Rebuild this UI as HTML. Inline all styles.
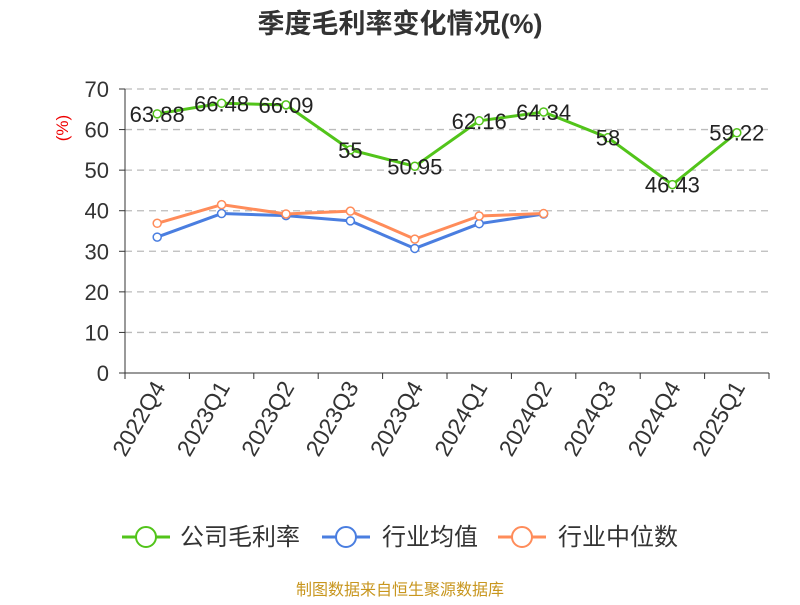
<!DOCTYPE html>
<html><head><meta charset="utf-8"><style>
body{margin:0;background:#fff;font-family:"Liberation Sans","Noto Sans CJK SC",sans-serif;}
</style></head><body>
<svg id="chart" width="800" height="600" xmlns="http://www.w3.org/2000/svg" font-family="Liberation Sans, Noto Sans CJK SC, sans-serif">
<text x="400" y="33" text-anchor="middle" font-size="27" font-weight="bold" fill="#333">季度毛利率变化情况(%)</text>
<text x="68" y="128" text-anchor="middle" font-size="17" fill="#e00" transform="rotate(-90 68 128)">(%)</text>
<g id="grid"></g><g id="axes"></g><g id="series"></g>
<g font-size="24" fill="#333">
 <g><line x1="122" y1="537" x2="170" y2="537" stroke="#52c41a" stroke-width="3"/><circle cx="146" cy="537" r="10" fill="#fff" stroke="#52c41a" stroke-width="2"/><text x="180" y="545">公司毛利率</text></g>
 <g><line x1="322" y1="537" x2="370" y2="537" stroke="#4a7ee0" stroke-width="3"/><circle cx="346" cy="537" r="10" fill="#fff" stroke="#4a7ee0" stroke-width="2"/><text x="382" y="545">行业均值</text></g>
 <g><line x1="498" y1="537" x2="546" y2="537" stroke="#ff8c5a" stroke-width="3"/><circle cx="522" cy="537" r="10" fill="#fff" stroke="#ff8c5a" stroke-width="2"/><text x="558" y="545">行业中位数</text></g>
</g>
<text x="400" y="595" text-anchor="middle" font-size="16" fill="#c8961e">制图数据来自恒生聚源数据库</text>
</svg>
<script>
const categories=["2022Q4","2023Q1","2023Q2","2023Q3","2023Q4","2024Q1","2024Q2","2024Q3","2024Q4","2025Q1"];
const company=[63.88,66.48,66.09,55,50.95,62.16,64.34,58,46.43,59.22];
const industryAvg=[33.5,39.3,38.8,37.5,30.7,36.8,39.2];
const industryMedian=[36.9,41.5,39.2,39.9,33.0,38.7,39.3];
const yTicks=[0,10,20,30,40,50,60,70];
const NS="http://www.w3.org/2000/svg";
const X0=125,X1=769,Y0=373,Y1=89,YMAX=70;
const bw=(X1-X0)/categories.length;
const xs=i=>X0+bw*(i+0.5);
const ys=v=>Y0-(v/YMAX)*(Y0-Y1);
function mk(tag,attrs,parent){const e=document.createElementNS(NS,tag);for(const k in attrs)e.setAttribute(k,attrs[k]);parent.appendChild(e);return e;}
const grid=document.getElementById('grid'),axes=document.getElementById('axes'),ser=document.getElementById('series');
yTicks.forEach(t=>{
 if(t>0){const g=mk('line',{x1:X0,x2:X1,y1:ys(t),y2:ys(t),stroke:'#bbb','stroke-dasharray':'7,5','stroke-width':1.3},grid);
 
 }
 const l=mk('text',{x:X0-16,y:ys(t)+8,'text-anchor':'end','font-size':22,fill:'#333'},axes);l.textContent=t;
 
 
 mk('line',{x1:X0-6,x2:X0,y1:ys(t),y2:ys(t),stroke:'#333'},axes);
});
mk('line',{x1:X0,x2:X0,y1:Y1,y2:Y0,stroke:'#333'},axes);
mk('line',{x1:X0,x2:X1,y1:Y0,y2:Y0,stroke:'#333'},axes);
for(let i=0;i<=categories.length;i++)mk('line',{x1:X0+bw*i,x2:X0+bw*i,y1:Y0,y2:Y0+6,stroke:'#333'},axes);
categories.forEach((c,i)=>{const x=xs(i)+9,y=Y0+14;
 const t=mk('text',{x:x,y:y,'text-anchor':'end','font-size':23,fill:'#333',transform:`rotate(-60 ${x} ${y})`},axes);t.textContent=c;
 
 });
function drawSeries(vals,color,name,labels){
 const pts=vals.map((v,i)=>xs(i)+','+ys(v)).join(' ');
 const pl=mk('polyline',{points:pts,fill:'none',stroke:color,'stroke-width':3,'stroke-linejoin':'round'},ser);
 
 
 vals.forEach((v,i)=>{const c=mk('circle',{cx:xs(i),cy:ys(v),r:4,fill:'#fff',stroke:color,'stroke-width':1.5},ser);
  
  
  if(labels){const t=mk('text',{x:xs(i),y:ys(v)+8,'text-anchor':'middle','font-size':22,fill:'#222'},ser);t.textContent=v;
   
   }
 });
}
drawSeries(industryAvg,'#4a7ee0','industry-avg',false);
drawSeries(industryMedian,'#ff8c5a','industry-median',false);
drawSeries(company,'#52c41a','company-margin',true);
</script>
</body></html>
